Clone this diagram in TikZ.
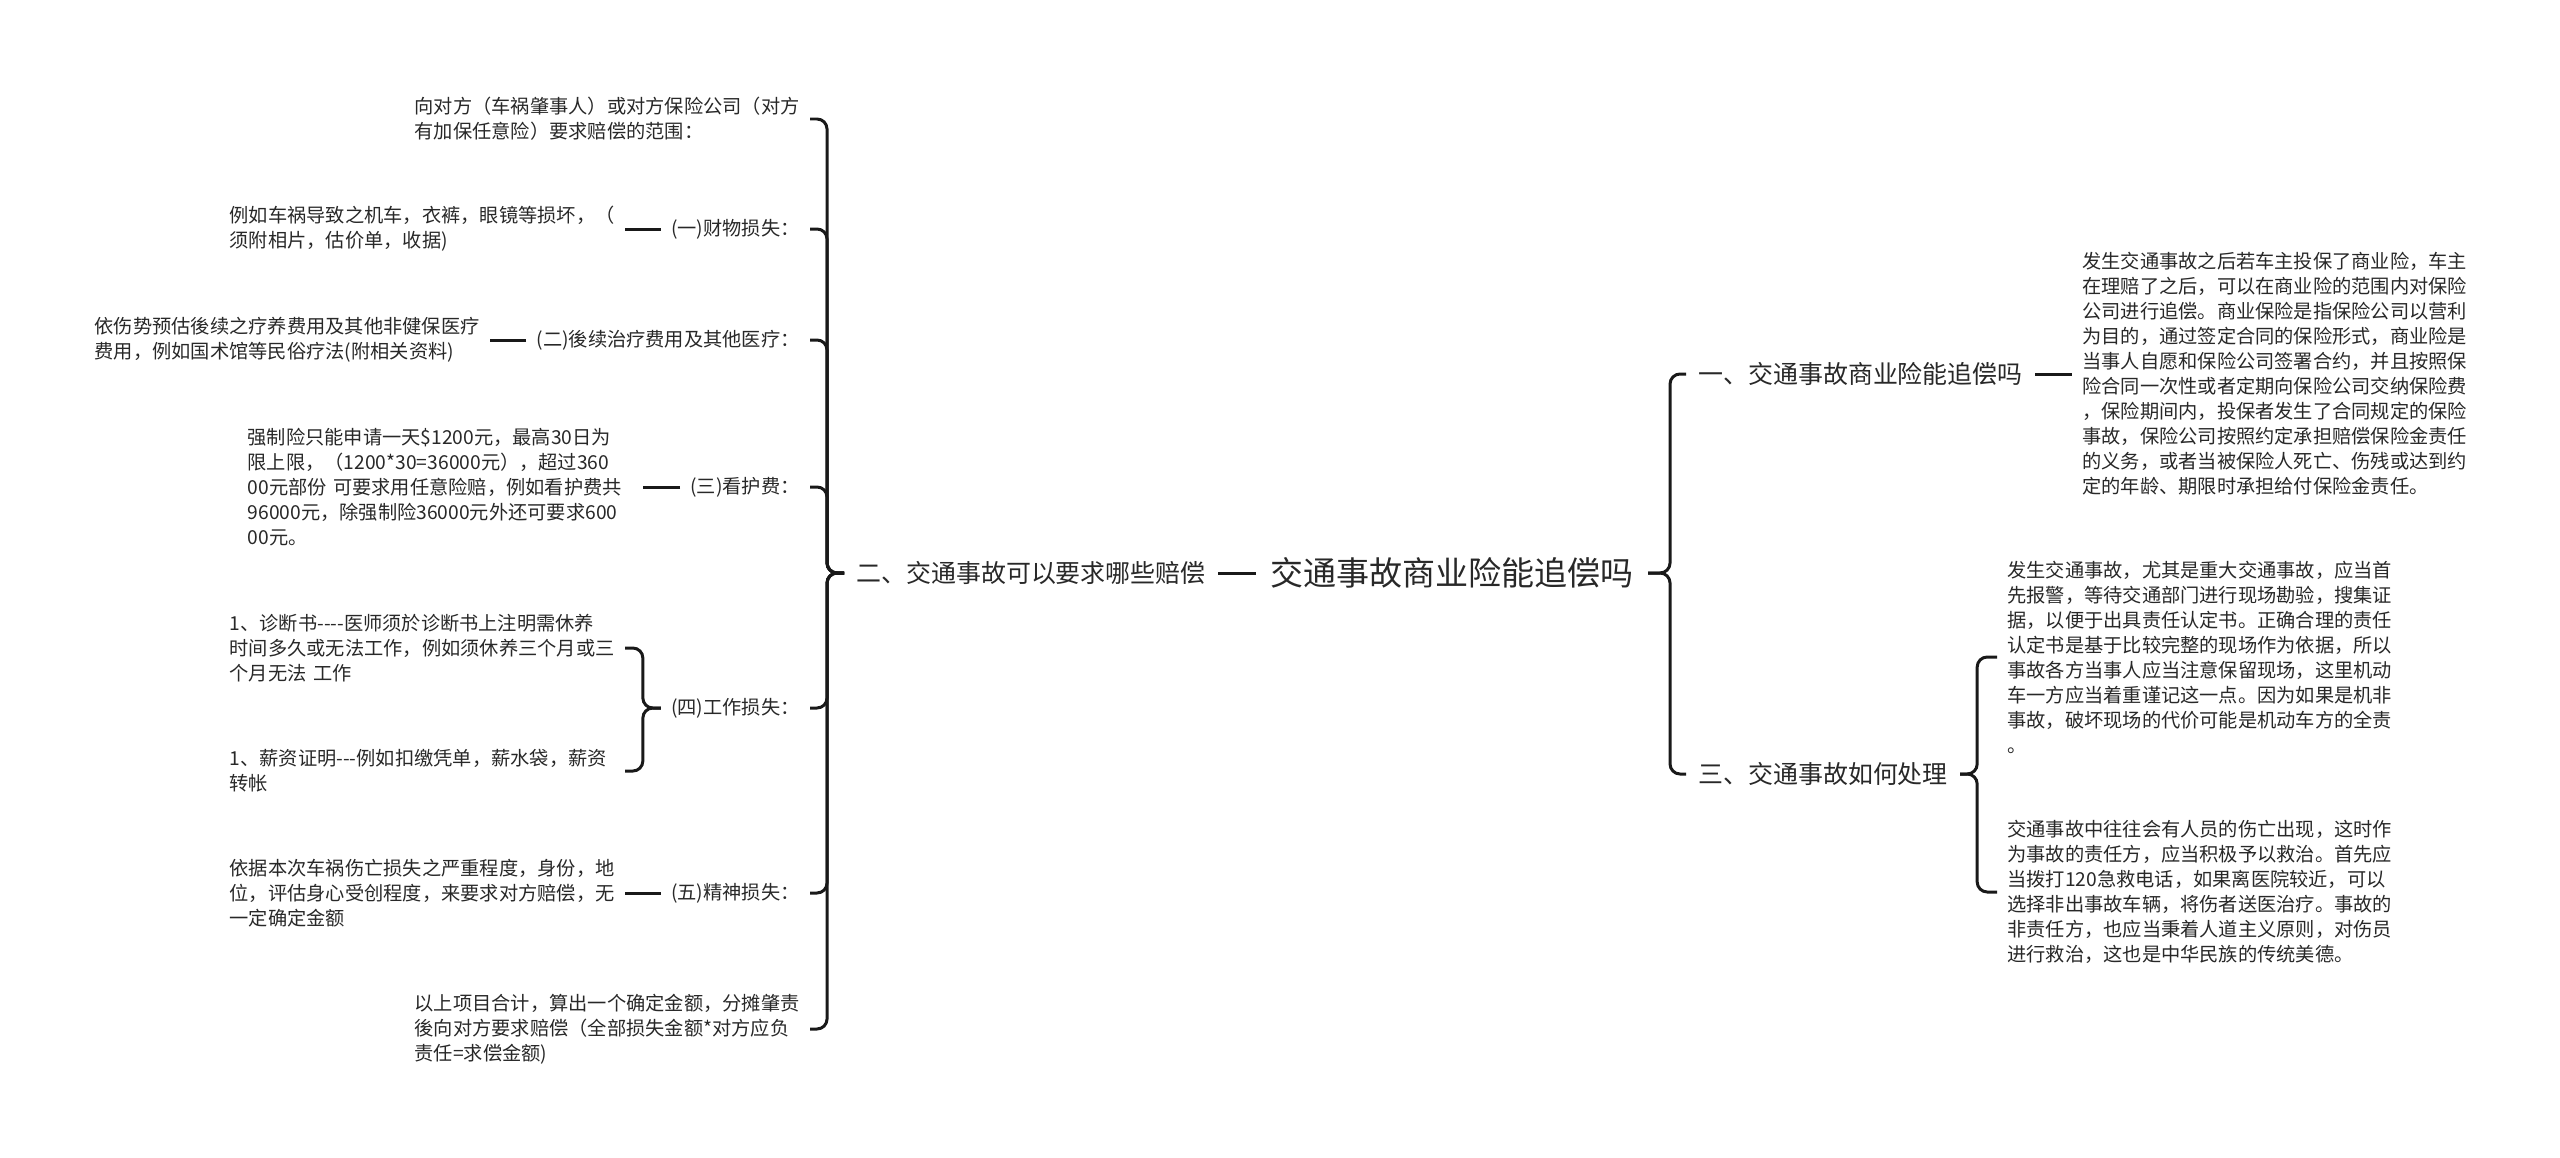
\documentclass[tikz,border=0pt]{standalone}
\usepackage{fontspec}
\setmainfont{Noto Sans CJK SC}[Ligatures=TeXOff]
\usepackage{tikz}
\usetikzlibrary{positioning, calc}
\definecolor{mapink}{RGB}{40, 40, 40}
\definecolor{mapline}{RGB}{25, 25, 25}
\tikzset{
    topic/.style={inner xsep=0.28cm, inner ysep=0pt, text=mapink, font=\fontsize{18.8pt}{22pt}\selectfont},
    branch/.style={inner xsep=0.24cm, inner ysep=0pt, text=mapink, font=\fontsize{14.2pt}{17pt}\selectfont},
    leaf/.style={inner xsep=0.2cm, inner ysep=0pt, text=mapink, align=left, font=\fontsize{10.95pt}{14.23pt}\selectfont},
    note/.style={leaf, text width=7.7cm},
    link/.style={draw=mapline, line width=1.7pt, rounded corners=0.2cm}
}

\begin{document}
\begin{tikzpicture}[x=0.02cm, y=-0.02cm]
    \useasboundingbox (0,0) rectangle (2560,1157);

    % --- ROOT ---
    \node[topic] (root) at (1452,573) {交通事故商业险能追偿吗};

    % --- LEFT BRANCH ---
    \node[branch, anchor=east] (comp) at (1218,573) {二、交通事故可以要求哪些赔偿};

    \node[note, anchor=east] (scope) at (810,119) {向对方（车祸肇事人）或对方保险公司（对方\\有加保任意险）要求赔偿的范围：};
    \node[leaf, anchor=east] (prop) at (810,229) {(一)财物损失：};
    \node[leaf, anchor=east] (med) at (810,340) {(二)後续治疗费用及其他医疗：};
    \node[leaf, anchor=east] (care) at (810,487) {(三)看护费：};
    \node[leaf, anchor=east] (work) at (810,708) {(四)工作损失：};
    \node[leaf, anchor=east] (mind) at (810,893) {(五)精神损失：};
    \node[note, anchor=east] (total) at (810,1029) {以上项目合计，算出一个确定金额，分摊肇责\\後向对方要求赔偿（全部损失金额*对方应负\\责任=求偿金额)};

    \node[note, anchor=east] (propx) at (625,229) {例如车祸导致之机车，衣裤，眼镜等损坏，（\\须附相片，估价单，收据)};
    \node[note, anchor=east] (medx) at (490,340) {依伤势预估後续之疗养费用及其他非健保医疗\\费用，例如国术馆等民俗疗法(附相关资料)};
    \node[note, anchor=east] (carex) at (643,487) {强制险只能申请一天\$1200元，最高30日为\\限上限，（1200*30=36000元），超过360\\00元部份 可要求用任意险赔，例如看护费共\\96000元，除强制险36000元外还可要求600\\00元。};
    \node[note, anchor=east] (worka) at (625,648) {1、诊断书----医师须於诊断书上注明需休养\\时间多久或无法工作，例如须休养三个月或三\\个月无法 工作};
    \node[note, anchor=east] (workb) at (625,771) {1、薪资证明---例如扣缴凭单，薪水袋，薪资\\转帐};
    \node[note, anchor=east] (mindx) at (625,893) {依据本次车祸伤亡损失之严重程度，身份，地\\位，评估身心受创程度，来要求对方赔偿，无\\一定确定金额};

    % --- RIGHT BRANCHES ---
    \node[branch, anchor=west] (claim) at (1686,374) {一、交通事故商业险能追偿吗};
    \node[branch, anchor=west] (handle) at (1686,774) {三、交通事故如何处理};

    \node[note, anchor=west] (claimx) at (2072,374) {发生交通事故之后若车主投保了商业险，车主\\在理赔了之后，可以在商业险的范围内对保险\\公司进行追偿。商业保险是指保险公司以营利\\为目的，通过签定合同的保险形式，商业险是\\当事人自愿和保险公司签署合约，并且按照保\\险合同一次性或者定期向保险公司交纳保险费\\，保险期间内，投保者发生了合同规定的保险\\事故，保险公司按照约定承担赔偿保险金责任\\的义务，或者当被保险人死亡、伤残或达到约\\定的年龄、期限时承担给付保险金责任。};
    \node[note, anchor=west] (handlea) at (1997,657) {发生交通事故，尤其是重大交通事故，应当首\\先报警，等待交通部门进行现场勘验，搜集证\\据，以便于出具责任认定书。正确合理的责任\\认定书是基于比较完整的现场作为依据，所以\\事故各方当事人应当注意保留现场，这里机动\\车一方应当着重谨记这一点。因为如果是机非\\事故，破坏现场的代价可能是机动车方的全责\\。};
    \node[note, anchor=west] (handleb) at (1997,892) {交通事故中往往会有人员的伤亡出现，这时作\\为事故的责任方，应当积极予以救治。首先应\\当拨打120急救电话，如果离医院较近，可以\\选择非出事故车辆，将伤者送医治疗。事故的\\非责任方，也应当秉着人道主义原则，对伤员\\进行救治，这也是中华民族的传统美德。};

    % --- CONNECTORS ---
    \draw[link] (root.west) -- (comp.east);
    \foreach \c in {scope, prop, med, care, work, mind, total}
        \draw[link] (comp.west) -- ++(-17,0) |- (\c.east);
    \draw[link] (prop.west) -- (propx.east);
    \draw[link] (med.west) -- (medx.east);
    \draw[link] (care.west) -- (carex.east);
    \foreach \c in {worka, workb}
        \draw[link] (work.west) -- ++(-18,0) |- (\c.east);
    \draw[link] (mind.west) -- (mindx.east);

    \foreach \c in {claim, handle}
        \draw[link] (root.east) -- ++(22,0) |- (\c.west);
    \draw[link] (claim.east) -- (claimx.west);
    \foreach \c in {handlea, handleb}
        \draw[link] (handle.east) -- ++(17,0) |- (\c.west);

\end{tikzpicture}
\end{document}
